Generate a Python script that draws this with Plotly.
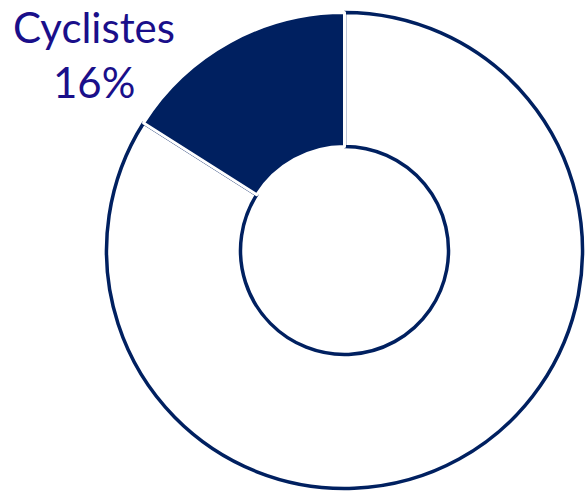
import plotly.graph_objects as go

labels = ["Autres", "Cyclistes"]
values = [84, 16]
label_lines = ["Cyclistes", "16%"]

NAVY = "#002060"
TEXT = "#1a0f8a"

W, H = 585, 493
cx, cy, r = 344.5, 250.5, 238
dom_x = [(cx - r) / W, min(1.0, (cx + r) / W)]
dom_y = [(H - (cy + r)) / H, (H - (cy - r)) / H]
hole = 104 / 238

fig = go.Figure()
fig.add_trace(go.Pie(
    labels=labels, values=values, hole=hole, sort=False,
    direction="clockwise", rotation=0,
    marker=dict(colors=["white", NAVY],
                line=dict(color=[NAVY, "white"], width=[3.5, 3])),
    textinfo="none", hoverinfo="skip", showlegend=False,
    domain=dict(x=dom_x, y=dom_y),
))

line_tops = [0, 55]
for txt, top in zip(label_lines, line_tops):
    fig.add_annotation(
        x=94 / W, y=1 - top / H, xref="paper", yref="paper",
        xanchor="center", yanchor="top", showarrow=False,
        text=txt, align="center",
        font=dict(family="Lato", size=42, color=TEXT),
    )

fig.update_layout(
    width=W, height=H, margin=dict(l=0, r=0, t=0, b=0),
    paper_bgcolor="white", plot_bgcolor="white",
)
fig.write_html(
    "out.html",
    config={"displayModeBar": False},
    post_script="document.body.style.margin='0';document.body.style.overflow='hidden';",
)
